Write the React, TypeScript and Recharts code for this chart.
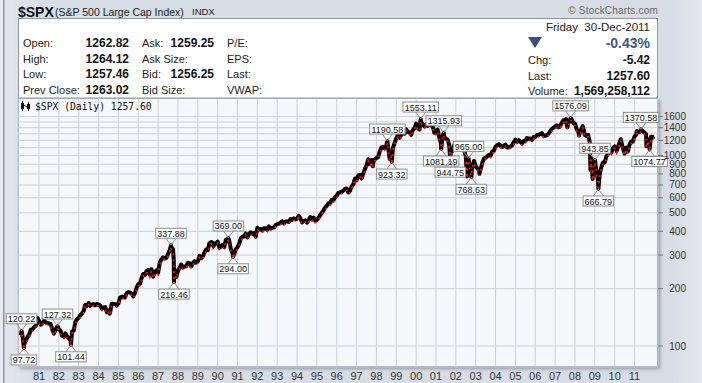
import React from 'react';
import { ComposedChart, Line, Scatter, XAxis, YAxis, CartesianGrid } from 'recharts';

// S&P 500 month-end closes, Jan..Dec of each year
const closes1980s = [
  114.16, 113.66, 102.09, 106.29, 111.24, 114.24, 121.67, 122.38, 125.46, 127.47, 140.52, 135.76,
  129.55, 131.27, 136.0, 132.81, 132.59, 131.21, 130.92, 122.79, 116.18, 121.89, 126.35, 122.55,
  120.4, 113.11, 111.96, 116.44, 111.88, 109.61, 107.09, 119.51, 120.42, 133.71, 138.54, 140.64,
  145.3, 148.06, 152.96, 164.42, 162.39, 168.11, 162.56, 164.4, 166.07, 163.55, 166.4, 164.93,
  163.41, 157.06, 159.18, 160.05, 150.55, 153.18, 150.66, 166.68, 166.1, 166.09, 163.58, 167.24,
  179.63, 181.18, 180.66, 179.83, 189.55, 191.85, 190.92, 188.63, 182.08, 189.82, 202.17, 211.28,
  211.78, 226.92, 238.9, 235.52, 247.35, 250.84, 236.12, 252.93, 231.32, 243.98, 249.22, 242.17,
  274.08, 284.2, 291.7, 288.36, 290.1, 304.0, 318.66, 329.8, 321.83, 251.79, 230.3, 247.08,
  257.07, 267.82, 258.89, 261.33, 262.16, 273.5, 272.02, 261.52, 271.91, 278.97, 273.7, 277.72,
  297.47, 288.86, 294.87, 309.64, 320.52, 317.98, 346.08, 351.45, 349.15, 340.36, 345.99, 353.4,
];
const closes1990s = [
  329.08, 331.89, 339.94, 330.8, 361.23, 358.02, 356.15, 322.56, 306.05, 304.0, 322.22, 330.22,
  343.93, 367.07, 375.22, 375.34, 389.83, 371.16, 387.81, 395.43, 387.86, 392.46, 375.22, 417.09,
  408.79, 412.7, 403.69, 414.95, 415.35, 408.14, 424.21, 414.03, 417.8, 418.68, 431.35, 435.71,
  438.78, 443.38, 451.67, 440.19, 450.19, 450.53, 448.13, 463.56, 458.93, 467.83, 461.79, 466.45,
  481.61, 467.14, 445.77, 450.91, 456.5, 444.27, 458.26, 475.49, 462.69, 472.35, 453.69, 459.27,
  470.42, 487.39, 500.71, 514.71, 533.4, 544.75, 562.06, 561.88, 584.41, 581.5, 605.37, 615.93,
  636.02, 640.43, 645.5, 654.17, 669.12, 670.63, 639.95, 651.99, 687.31, 705.27, 757.02, 740.74,
  786.16, 790.82, 757.12, 801.34, 848.28, 885.14, 954.29, 899.47, 947.28, 914.62, 955.4, 970.43,
  980.28, 1049.34, 1101.75, 1111.75, 1090.82, 1133.84, 1120.67, 957.28, 1017.01, 1098.67, 1163.63, 1229.23,
  1279.64, 1238.33, 1286.37, 1335.18, 1301.84, 1372.71, 1328.72, 1320.41, 1282.71, 1362.93, 1388.91, 1469.25,
];
const closes2000s = [
  1394.46, 1366.42, 1498.58, 1452.43, 1420.6, 1454.6, 1430.83, 1517.68, 1436.51, 1429.4, 1314.95, 1320.28,
  1366.01, 1239.94, 1160.33, 1249.46, 1255.82, 1224.42, 1211.23, 1133.58, 1040.94, 1059.78, 1139.45, 1148.08,
  1130.2, 1106.73, 1147.39, 1076.92, 1067.14, 989.82, 911.62, 916.07, 815.28, 885.76, 936.31, 879.82,
  855.7, 841.15, 848.18, 916.92, 963.59, 974.5, 990.31, 1008.01, 995.97, 1050.71, 1058.2, 1111.92,
  1131.13, 1144.94, 1126.21, 1107.3, 1120.68, 1140.84, 1101.72, 1104.24, 1114.58, 1130.2, 1173.82, 1211.92,
  1181.27, 1203.6, 1180.59, 1156.85, 1191.5, 1191.33, 1234.18, 1220.33, 1228.81, 1207.01, 1249.48, 1248.29,
  1280.08, 1280.66, 1294.83, 1310.61, 1270.09, 1270.2, 1276.66, 1303.82, 1335.85, 1377.94, 1400.63, 1418.3,
  1438.24, 1406.82, 1420.86, 1482.37, 1530.62, 1503.35, 1455.27, 1473.99, 1526.75, 1549.38, 1481.14, 1468.36,
  1378.55, 1330.63, 1322.7, 1385.59, 1400.38, 1280.0, 1267.38, 1282.83, 1166.36, 968.75, 896.24, 903.25,
  825.88, 735.09, 797.87, 872.81, 919.14, 919.32, 987.48, 1020.62, 1057.08, 1036.19, 1095.63, 1115.1,
];
const closes2010s = [
  1073.87, 1104.49, 1169.43, 1186.69, 1089.41, 1030.71, 1101.6, 1049.33, 1141.2, 1183.26, 1180.55, 1257.64,
  1286.12, 1327.22, 1325.83, 1363.61, 1345.2, 1320.64, 1292.28, 1218.89, 1131.42, 1253.3, 1246.96, 1257.6,
];

// swings inside a month that the closes miss
const swingDates = [
  1984.56, 1987.79, 1989.78, 1997.82, 2000.67, 2001.71, 2002.56, 2003.19, 2007.55, 2007.62,
  2008.21, 2008.39, 2008.78, 2008.89, 2010.1, 2010.31, 2010.5, 2011.12, 2011.6,
];
const swingValues = [
  147.82, 282.7, 333.65, 876.99, 1520.77, 965.8, 775.68, 800.73, 1553.08, 1406.7,
  1273.37, 1426.63, 839.8, 752.44, 1056.74, 1217.28, 1022.58, 1343.01, 1119.46,
];

// labelled highs / lows
const pivotDates = [
  1980.12, 1980.24, 1981.93, 1982.61, 1987.65, 1987.8, 1990.54, 1990.78, 1998.55, 1998.77,
  2000.23, 2001.26, 2001.39, 2001.72, 2002.64, 2002.78, 2007.78, 2009.01, 2009.18, 2011.33, 2011.76,
];
const pivotValues = [
  120.22, 97.72, 127.32, 101.44, 337.88, 216.46, 369.0, 294.0, 1190.58, 923.32,
  1553.11, 1081.19, 1315.93, 944.75, 965.0, 768.63, 1576.09, 943.85, 666.79, 1370.58, 1074.77,
];
const pivotKinds = [
  'H', 'L', 'H', 'L', 'H', 'L', 'H', 'L', 'H', 'L',
  'H', 'L', 'H', 'L', 'H', 'L', 'H', 'H', 'L', 'H', 'L',
];

const yearTicks = [
  1981, 1982, 1983, 1984, 1985, 1986, 1987, 1988, 1989, 1990, 1991, 1992, 1993, 1994, 1995, 1996,
  1997, 1998, 1999, 2000, 2001, 2002, 2003, 2004, 2005, 2006, 2007, 2008, 2009, 2010, 2011,
];
const priceTicks = [100, 200, 300, 400, 500, 600, 700, 800, 900, 1000, 1100, 1200, 1300, 1400, 1500, 1600];
const priceLabels = [100, 200, 300, 400, 500, 600, 700, 800, 900, 1000, 1200, 1400, 1600];

const series: { t: number; v: number }[] = [];
[closes1980s, closes1990s, closes2000s, closes2010s].forEach((arr, d) =>
  arr.forEach((v, i) => series.push({ t: 1980 + d * 10 + (i + 1) / 12, v }))
);
swingDates.forEach((t, i) => series.push({ t, v: swingValues[i] }));
pivotDates.forEach((t, i) => series.push({ t, v: pivotValues[i] }));
series.sort((a, b) => a.t - b.t);

const pivots = pivotDates.map((t, i) => ({ t, v: pivotValues[i], kind: pivotKinds[i] }));

const W = 702;
const H = 383;
const PLOT_L = 18;
const PLOT_R = 658;
const PLOT_T = 98;
const PLOT_B = 367;
const X_MIN = 1979.942;
const X_MAX = 2012.184;
const Y_MIN = 77.6;
const Y_MAX = 2003;

const SANS = 'Arial, "Liberation Sans", sans-serif';

const Annot = (props: any) => {
  const { cx, cy, payload } = props;
  if (cx == null || cy == null) return null;
  const label = payload.v.toFixed(2);
  const fs = 9;
  const w = ((label.length - 1) * 0.556 + 0.278) * fs + 3;
  const h = 10;
  const up = payload.kind === 'H';
  const edge = up ? cy - 7 : cy + 7;
  const boxY = up ? edge - h : edge;
  return (
    <g>
      <path d={`M${cx - 5},${edge} L${cx},${cy} L${cx + 5},${edge}`} fill="none" stroke="#8e8e8e" />
      <rect x={cx - w / 2} y={boxY} width={w} height={h} fill="#fff" stroke="#8e8e8e" />
      <text x={cx} y={boxY + h / 2 + 0.5} textAnchor="middle" dominantBaseline="central" fontSize={fs} fontFamily={SANS} fill="#111">
        {label}
      </text>
    </g>
  );
};

const XTick = (props: any) => {
  const { x, payload } = props;
  return (
    <text x={x} y={376} textAnchor="middle" dominantBaseline="central" fontSize={11} fontFamily={SANS} fill="#333">
      {String(payload.value % 100).padStart(2, '0')}
    </text>
  );
};

const YTick = (props: any) => {
  const { y, payload } = props;
  if (!priceLabels.includes(payload.value)) return <g />;
  return (
    <g>
      <line x1={PLOT_R} x2={PLOT_R + 5} y1={y} y2={y} stroke="#777" />
      <text x={686} y={y} textAnchor="end" dominantBaseline="central" fontSize={10} fontFamily={SANS} fill="#333">
        {payload.value}
      </text>
    </g>
  );
};

const Header = () => {
  const lab = (s: string, x: number, y: number) => (
    <text x={x} y={y} dominantBaseline="central" fontSize={11} fill="#222">{s}</text>
  );
  const val = (s: string, x: number, y: number) => (
    <text x={x} y={y} textAnchor="end" dominantBaseline="central" fontSize={12} fontWeight="bold" fill="#111">{s}</text>
  );
  return (
    <svg width={W} height={H} style={{ position: 'absolute', left: 0, top: 0, pointerEvents: 'none' }} fontFamily={SANS}>
      <text x={18} y={11.5} dominantBaseline="central" fontSize={14} fontWeight="bold" fill="#111">$SPX</text>
      <text x={55} y={11.5} dominantBaseline="central" fontSize={10.5} fill="#222">(S&amp;P 500 Large Cap Index)</text>
      <text x={192} y={11.5} dominantBaseline="central" fontSize={9.5} fill="#222">INDX</text>
      <text x={658} y={10.5} textAnchor="end" dominantBaseline="central" fontSize={10} letterSpacing={0.2} fill="#666">© StockCharts.com</text>

      <rect x={18.5} y={18.5} width={639} height={79.5} fill="#fff" stroke="#8e96a2" />
      {lab('Open:', 23, 43)}
      {val('1262.82', 129, 43)}
      {lab('High:', 23, 59)}
      {val('1264.12', 129, 59)}
      {lab('Low:', 23, 74)}
      {val('1257.46', 129, 74)}
      {lab('Prev Close:', 23, 90)}
      {val('1263.02', 129, 90)}
      {lab('Ask:', 142, 43)}
      {val('1259.25', 214, 43)}
      {lab('Ask Size:', 142, 59)}
      {lab('Bid:', 142, 74)}
      {val('1256.25', 214, 74)}
      {lab('Bid Size:', 142, 90)}
      {lab('P/E:', 227, 43)}
      {lab('EPS:', 227, 59)}
      {lab('Last:', 227, 74)}
      {lab('VWAP:', 227, 90)}

      <text x={650} y={27} textAnchor="end" dominantBaseline="central" fontSize={11.5} fill="#222">{'Friday\u00a0 30-Dec-2011'}</text>
      <path d="M528,37 L542,37 L535,48 Z" fill="#3a4f75" />
      <text x={650} y={43} textAnchor="end" dominantBaseline="central" fontSize={14} fontWeight="bold" fill="#41587f">-0.43%</text>
      {lab('Chg:', 528, 60)}
      {val('-5.42', 650, 60)}
      {lab('Last:', 528, 76)}
      {val('1257.60', 650, 76)}
      {lab('Volume:', 528, 91)}
      {val('1,569,258,112', 650, 91)}

      <g transform="translate(20,101)">
        <rect x={1} y={2} width={3} height={6} fill="#111" />
        <line x1={2.5} x2={2.5} y1={0} y2={10} stroke="#111" />
        <rect x={7} y={3} width={3} height={5} fill="#111" />
        <line x1={8.5} x2={8.5} y1={1} y2={10} stroke="#111" />
        <line x1={4} x2={7} y1={4} y2={6} stroke="#111" />
      </g>
      <text x={35} y={106} dominantBaseline="central" fontSize={9.7} fontFamily='"DejaVu Sans Mono", monospace' fill="#111">
        $SPX (Daily) 1257.60
      </text>
    </svg>
  );
};

export default function App() {
  return (
    <div
      style={{
        position: 'absolute',
        left: 0,
        top: 0,
        width: W,
        height: H,
        overflow: 'hidden',
        background: 'linear-gradient(to right, #e6e9ef 0px, #e6e9ef 3px, #8d949e 3px, #8d949e 4px, #e2e6ec 5px, #d8dde5 40px, #d8dde5 670px, #e3e6ec 702px)',
        fontFamily: SANS,
      }}
    >
      <style>{'.redfleck path{transform:translateY(1.8px)}'}</style>
      <div
        style={{
          position: 'absolute',
          left: PLOT_L,
          top: PLOT_T,
          width: PLOT_R - PLOT_L,
          height: PLOT_B - PLOT_T,
          boxSizing: 'border-box',
          background: '#f5f7fa',
          border: '1px solid #9aa1ab',
          boxShadow: '2px 2px 3px rgba(60,70,90,0.45)',
        }}
      />
      <div style={{ position: 'absolute', left: 0, top: 0 }}>
        <ComposedChart
          width={W}
          height={H}
          data={series}
          margin={{ top: PLOT_T, right: 0, bottom: 0, left: PLOT_L }}
        >
          <CartesianGrid stroke="#cbd0d8" strokeWidth={1} />
          <XAxis
            dataKey="t"
            type="number"
            domain={[X_MIN, X_MAX]}
            ticks={yearTicks}
            interval={0}
            height={H - PLOT_B}
            axisLine={false}
            tickLine={false}
            tick={<XTick />}
          />
          <YAxis
            orientation="right"
            type="number"
            scale="log"
            domain={[Y_MIN, Y_MAX]}
            ticks={priceTicks}
            interval={0}
            width={W - PLOT_R}
            axisLine={false}
            tickLine={false}
            tick={<YTick />}
          />
          <Line
            dataKey="v"
            type="linear"
            stroke="#000"
            strokeWidth={4}
            strokeLinejoin="round"
            dot={false}
            activeDot={false}
            isAnimationActive={false}
          />
          <Line
            dataKey="v"
            type="linear"
            className="redfleck"
            stroke="#f0140f"
            strokeWidth={1.8}
            strokeDasharray="2 4"
            dot={false}
            activeDot={false}
            isAnimationActive={false}
          />
          <Scatter data={pivots} dataKey="v" shape={Annot} isAnimationActive={false} />
        </ComposedChart>
      </div>
      <Header />
    </div>
  );
}
